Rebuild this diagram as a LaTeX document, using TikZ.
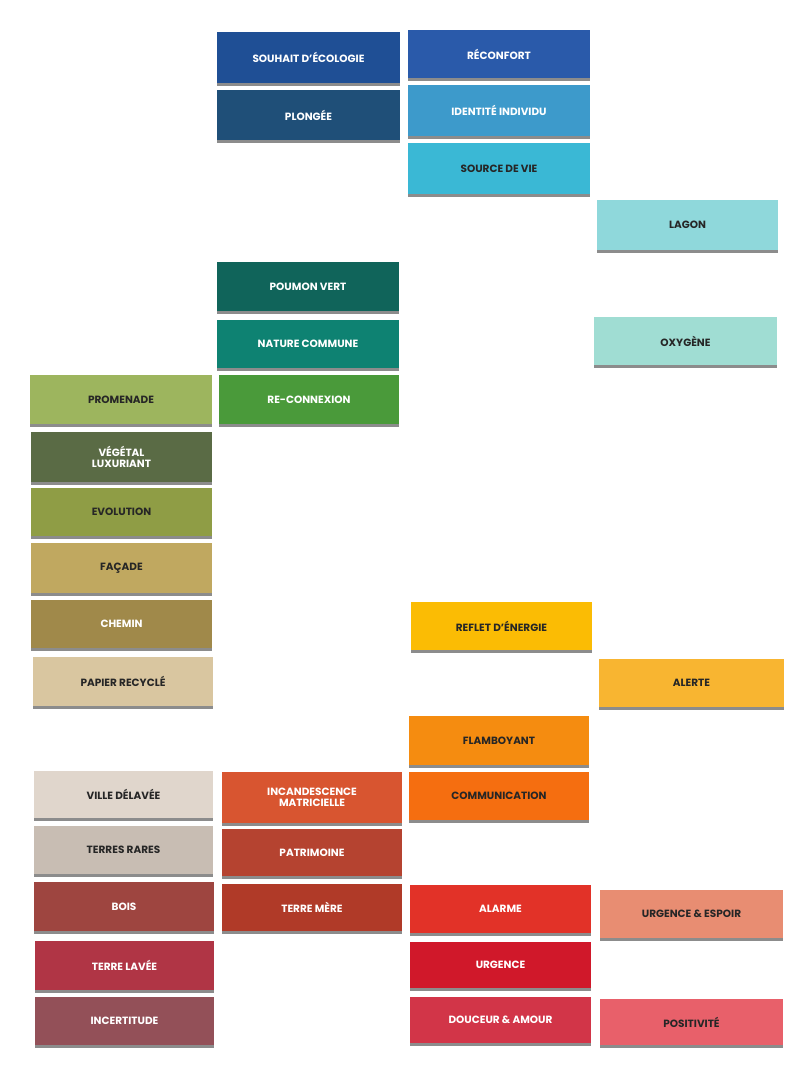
\documentclass[tikz,border=0pt]{standalone}
\usepackage{fontspec}
\setmainfont{Poppins}
\begin{document}
\begin{tikzpicture}[x=1pt,y=-1pt]
\useasboundingbox[fill=white] (0,0) rectangle (803,1080);
\tikzset{strip/.style={font=\bfseries\fontsize{10.5}{11}\selectfont,align=center,inner sep=0pt}}
\newcommand{\strip}[8]{%
 \definecolor{c#1}{HTML}{#6}%
 \fill[black!45] (#2,#3+3) rectangle (#4,#5+3);
 \fill[c#1] (#2,#3) rectangle (#4,#5);
 \node[strip,text=#8] (#1) at ({(#2+#4)/2},{(#3+#5)/2}) {#7};}
\strip{promenade}{30}{375}{212}{424}{9DB55E}{PROMENADE}{black!85}
\strip{vegetal}{31}{432}{212}{482}{5A6B45}{VÉGÉTAL\\LUXURIANT}{white}
\strip{evolution}{31}{488}{212}{536}{8F9D45}{EVOLUTION}{black!85}
\strip{facade}{31}{543}{212}{593}{C0A860}{FAÇADE}{black!85}
\strip{chemin}{31}{600}{212}{648}{A0894A}{CHEMIN}{white}
\strip{papier}{33}{657}{213}{706}{D9C6A0}{PAPIER RECYCLÉ}{black!85}
\strip{ville}{34}{771}{213}{818}{E0D6CC}{VILLE DÉLAVÉE}{black!85}
\strip{terres}{34}{826}{213}{874}{C8BDB3}{TERRES RARES}{black!85}
\strip{bois}{34}{882}{214}{931}{9E4540}{BOIS}{white}
\strip{terrelavee}{35}{941}{214}{990}{B03545}{TERRE LAVÉE}{white}
\strip{incertitude}{35}{997}{214}{1045}{935058}{INCERTITUDE}{white}
\strip{souhait}{217}{32}{400}{83}{1F4F95}{SOUHAIT D'ÉCOLOGIE}{white}
\strip{plongee}{217}{90}{400}{140}{1F4F78}{PLONGÉE}{white}
\strip{poumon}{217}{262}{399}{311}{10645A}{POUMON VERT}{white}
\strip{nature}{217}{320}{399}{368}{0E8272}{NATURE COMMUNE}{white}
\strip{reconnexion}{219}{375}{399}{424}{4A9A3A}{RE-CONNEXION}{white}
\strip{incandescence}{222}{772}{402}{823}{D85530}{INCANDESCENCE\\MATRICIELLE}{white}
\strip{patrimoine}{222}{829}{402}{876}{B54330}{PATRIMOINE}{white}
\strip{terremere}{222}{884}{402}{931}{B03A28}{TERRE MÈRE}{white}
\strip{reconfort}{408}{30}{590}{78}{2A5AAA}{RÉCONFORT}{white}
\strip{identite}{408}{85}{590}{136}{3D9ACB}{IDENTITÉ INDIVIDU}{white}
\strip{source}{408}{143}{590}{194}{3AB8D5}{SOURCE DE VIE}{black!85}
\strip{reflet}{411}{602}{592}{650}{FBBC04}{REFLET D'ÉNERGIE}{black!85}
\strip{flamboyant}{409}{716}{589}{765}{F58C10}{FLAMBOYANT}{black!85}
\strip{communication}{409}{772}{589}{820}{F56E10}{COMMUNICATION}{black!85}
\strip{alarme}{410}{885}{591}{933}{E23228}{ALARME}{white}
\strip{urgence}{410}{942}{591}{988}{D0182A}{URGENCE}{white}
\strip{douceur}{410}{997}{591}{1043}{D23548}{DOUCEUR \& AMOUR}{white}
\strip{lagon}{597}{200}{778}{250}{8FD8DB}{LAGON}{black!85}
\strip{oxygene}{594}{317}{777}{365}{A0DDD3}{OXYGÈNE}{black!85}
\strip{alerte}{599}{659}{784}{707}{F8B531}{ALERTE}{black!85}
\strip{urgespoir}{600}{890}{783}{938}{E88D72}{URGENCE \& ESPOIR}{black!85}
\strip{positivite}{600}{999}{783}{1045}{E8606A}{POSITIVITÉ}{black!85}
\end{tikzpicture}
\end{document}
